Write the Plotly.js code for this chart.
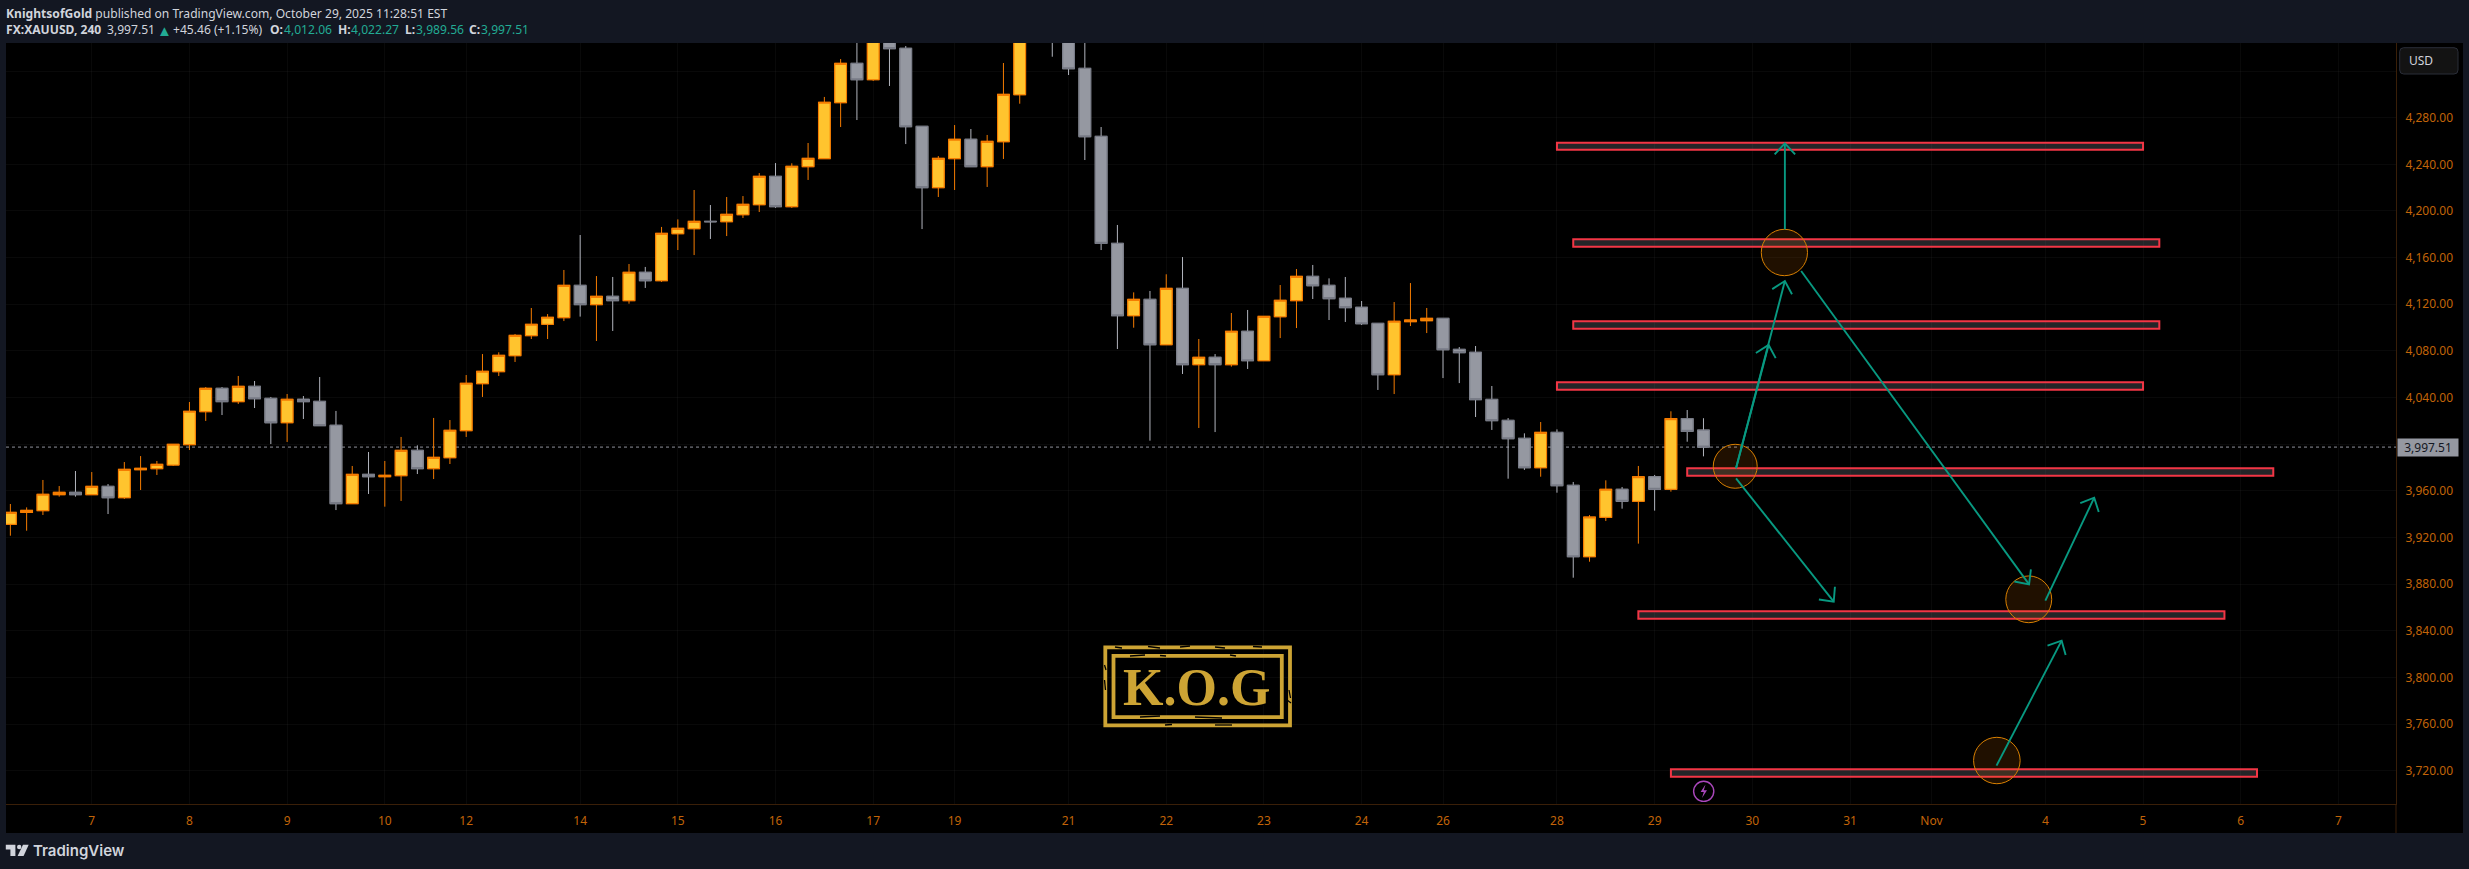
<!DOCTYPE html>
<html>
<head>
<meta charset="utf-8">
<script src="https://cdn.plot.ly/plotly-3.0.1.min.js"></script>
<style>html,body{margin:0;padding:0;background:#131722;overflow:hidden}#c{width:2469px;height:869px}</style>
</head>
<body>
<div id="c"></div>
<script>
// ---- candle data (bar index 0..104, 4h bars) ----
const opens = [3931.2,3941.5,3943,3956.7,3958.7,3956.7,3963.8,3954.1,3978.1,3979,3982.1,3999.6,4027.9,4047.9,4036.5,4049.6,4039.3,4018.4,4038.5,4036.7,4016.2,3949,3974.1,3972.1,3973,3994.7,3979,3988.4,4011.6,4051.9,4062.2,4075.9,4093.1,4102.8,4108.5,4136.2,4119.7,4126.8,4123.1,4147.4,4140.2,4180.5,4184.8,4191.1,4190.8,4196.8,4205.4,4229.7,4203.7,4238,4244.9,4292.9,4326.6,4312.6,4349,4339.5,4272.6,4220,4244.9,4261.5,4238,4259.4,4299.7,4352,4380,4360,4322.3,4264,4172.2,4110.2,4124.2,4085.3,4133.6,4068.2,4074.5,4068.2,4096.8,4071.6,4109.3,4123.1,4143.9,4136.2,4125.1,4117.4,4103.6,4059.6,4105.1,4105.9,4107.9,4081.3,4078.8,4038.4,4020.4,4005,3979.8,4010.1,3964.7,3903.5,3937.2,3961.3,3951,3972.1,3961.3,4021.9,4012.06];
const highs = [3948.7,3945.8,3969.3,3964.1,3977,3976.1,3965.8,3984.7,3989.8,3985.6,3999.9,4036.2,4049,4049,4058.5,4054.2,4040.5,4043,4041.3,4057.6,4028.5,3981.3,3993.3,3985.6,4006.2,3999,4022.5,4020.7,4059.3,4077.3,4078.8,4094.5,4116.8,4111.6,4149.4,4179.4,4144.2,4143.4,4154.5,4152,4186.3,4192.8,4218,4205.1,4212,4212.8,4232.5,4241.1,4240.9,4258.3,4297.8,4330.3,4352,4352,4351,4341.5,4272.6,4247.1,4273.7,4270.3,4265.2,4326.9,4358,4390,4385,4365,4352,4272,4188,4130.2,4131.4,4145.7,4160.5,4090.2,4077.3,4112.5,4115.1,4109.6,4136.5,4150.2,4153.7,4142.2,4143.4,4122.8,4103.6,4121.9,4138.2,4116.8,4107.9,4083.3,4084.2,4049.9,4022.4,4009.3,4019,4012.7,3967.6,3939.2,3969,3963.3,3981.3,3973.6,4028.2,4029.3,4022.27];
const lows = [3921.5,3925.8,3939.3,3955,3955,3956.7,3940.1,3953,3960.7,3973.6,3981.3,3995,4019.9,4025,4034.5,4031,4000.1,4001.9,4021.6,4015.9,3943.5,3949,3957.3,3946.4,3951.3,3974.4,3970.1,3983,4006.2,4040.5,4058.5,4070.5,4090.2,4090.2,4105.6,4109.4,4088.5,4097.1,4120.5,4134,4139.1,4166.5,4162.2,4176,4178.5,4194,4199.1,4202.6,4202.6,4226.6,4244.9,4272,4278,4311.5,4307.2,4257.4,4184.5,4212,4218,4238,4220.6,4244.6,4292,4350,4332.3,4316.6,4243.7,4166.5,4081.6,4099.9,4003,4085.3,4060.2,4013.9,4010.4,4066.5,4064.5,4071.6,4091,4099.6,4124.5,4106.5,4104.8,4102.2,4046.5,4043,4101.3,4095.3,4056.7,4052.4,4023.3,4012.2,3970.4,3977.9,3972.1,3958.4,3885.5,3899.2,3934.1,3944.7,3914.7,3943,3959.3,4002.1,3989.56];
const closes = [3941.5,3943.2,3957,3958.7,3956.7,3963.8,3954.1,3978.4,3979.3,3982.7,3999.9,4028.2,4047.9,4036.5,4049.6,4039,4018.4,4038.5,4036.5,4015.9,3949,3974.1,3972.1,3973.3,3994.7,3979,3988.7,4011.9,4052.2,4062.5,4076.2,4093.3,4102.8,4108.8,4136.2,4119.7,4126.8,4123.1,4147.4,4140.2,4180.8,4185.1,4191.1,4190.8,4197.1,4205.7,4229.7,4203.7,4238.3,4245.1,4293.2,4326.6,4312.6,4349,4339.2,4272.3,4220,4245.1,4261.5,4238,4259.7,4300,4352,4380,4360,4322,4263.7,4172.2,4110.2,4124.2,4085.3,4133.6,4068.2,4074.5,4068.2,4096.8,4071.6,4109.6,4123.4,4143.9,4135.9,4124.8,4117.1,4103.3,4059.6,4105.4,4106.5,4107.9,4081,4078.5,4038.2,4020.2,4004.7,3979.8,4010.1,3964.4,3903.5,3937.5,3961.3,3951,3972.1,3961.3,4021.9,4011,3997.51];
const barIndex = opens.map((_, i) => i);

// ---- axis labels ----
const dayTickIndex = [5,11,17,23,28,35,41,47,53,58,65,71,77,83,88,95,101,107,113,118,125,131,137,143];
const dayTickLabels = ['7','8','9','10','12','14','15','16','17','19','21','22','23','24','26','28','29','30','31','Nov','4','5','6','7'];
const priceTicks = [3720,3760,3800,3840,3880,3920,3960,4000,4040,4080,4120,4160,4200,4240,4280,4320];
const priceTickLabels = ['3,720.00','3,760.00','3,800.00','3,840.00','3,880.00','3,920.00','3,960.00','','4,040.00','4,080.00','4,120.00','4,160.00','4,200.00','4,240.00','4,280.00',''];
const lastPrice = 3997.51;

// ---- drawings ----
const zoneLeft  = [95,96,96,95,103,100,102];
const zoneRight = [131,132,132,131,139,136,138];
const zoneTop   = [4258.6,4175.8,4105.4,4053.2,3979.4,3856.7,3721.2];
const zoneBot   = [4252.6,4169.3,4099,4046.7,3972.9,3850.3,3714.8];

const ellLeft  = [104.6,107.55,122.57,120.59];
const ellRight = [107.3,110.39,125.39,123.45];
const ellTop   = [3999.9,4184.3,3887,3748.6];
const ellBot   = [3962.2,4144.5,3846.9,3708.8];

const arrowTailX = [109,106,106,110,106,125,122];
const arrowTailY = [4184.3,3979.3,3979.3,4148.5,3970.7,3865.8,3724.3];
const arrowTipX  = [109,109,108,124,112,128,126];
const arrowTipY  = [4258,4139.9,4085.1,3879.8,3864.9,3954.1,3831.5];

// ---- layout geometry of the chart frame ----
const W = 2469, H = 869, PL = 6, PR = 2396, PT = 43, PB = 804;
const xRange = [(PL-10.36)/16.28, (PR-10.36)/16.28];
const yRange = [4280-(PB-117.7)/1.166, 4280-(PT-117.7)/1.166];
const px = X => (X-PL)/(PR-PL);
const py = Y => (PB-Y)/(PB-PT);
const pxPerX = (PR-PL)/(xRange[1]-xRange[0]);
const pxPerY = (PB-PT)/(yRange[1]-yRange[0]);

// ---- candle traces ----
const UP_FILL='#ffc42e', UP_EDGE='#f57c00', DN_FILL='#9598a1', DN_EDGE='#787b86', DN_WICK='#b2b5be';
const wickTrace = {type:'candlestick', x:barIndex, open:opens, high:highs, low:lows, close:closes,
  increasing:{line:{color:UP_EDGE,width:1},fillcolor:UP_FILL},
  decreasing:{line:{color:DN_WICK,width:1},fillcolor:DN_FILL},
  hoverinfo:'skip', showlegend:false};
const bodyTrace = {type:'candlestick', x:barIndex, open:opens, close:closes,
  high:opens.map((o,i)=>Math.max(o,closes[i])), low:opens.map((o,i)=>Math.min(o,closes[i])),
  increasing:{line:{color:UP_EDGE,width:1.1},fillcolor:UP_FILL},
  decreasing:{line:{color:DN_EDGE,width:1.1},fillcolor:DN_FILL},
  hoverinfo:'skip', showlegend:false};

// ---- arrows ----
const ax=[], ay=[];
arrowTipX.forEach((tx,i)=>{
  const ty=arrowTipY[i], dx=(arrowTailX[i]-tx)*pxPerX, dy=-(arrowTailY[i]-ty)*pxPerY;
  const L=Math.hypot(dx,dy), ux=dx/L, uy=dy/L, len=15, a=43*Math.PI/180;
  ax.push(arrowTailX[i],tx,null); ay.push(arrowTailY[i],ty,null);
  [a,-a].forEach((t,k)=>{
    const bx=(ux*Math.cos(t)-uy*Math.sin(t))*len, by=(ux*Math.sin(t)+uy*Math.cos(t))*len;
    ax.push(tx+bx/pxPerX); ay.push(ty-by/pxPerY);
    if(k===0){ax.push(tx);ay.push(ty);}
  });
  ax.push(null); ay.push(null);
});
const arrowTrace = {type:'scatter',mode:'lines',x:ax,y:ay,line:{color:'#089981',width:1.9},hoverinfo:'skip',showlegend:false};

// ---- shapes ----
const shapes = [];
const panel = (X0,Y0,X1,Y1,fill)=>({type:'rect',xref:'paper',yref:'paper',x0:px(X0),x1:px(X1),y0:py(Y0),y1:py(Y1),fillcolor:fill,line:{width:0},layer:'below'});
shapes.push(panel(PL,PT,2463,833,'#000000'));
shapes.push({type:'line',xref:'paper',yref:'paper',x0:1,x1:1,y0:py(804),y1:py(833),line:{color:'#3a1f08',width:1},layer:'below'});
shapes.push({type:'line',xref:'x',yref:'y',x0:xRange[0],x1:xRange[1],y0:lastPrice,y1:lastPrice,line:{color:'#8f929b',width:1,dash:'dot'},layer:'between'});
zoneLeft.forEach((l,i)=>shapes.push({type:'rect',xref:'x',yref:'y',x0:l,x1:zoneRight[i],y0:zoneBot[i],y1:zoneTop[i],fillcolor:'rgba(120,123,134,0.3)',line:{color:'#f23645',width:2},layer:'between'}));
ellLeft.forEach((l,i)=>shapes.push({type:'circle',xref:'x',yref:'y',x0:l,x1:ellRight[i],y0:ellBot[i],y1:ellTop[i],fillcolor:'rgba(245,124,0,0.13)',line:{color:'#d98000',width:1},layer:'between'}));
// USD button
const rr=(x0,y0,x1,y1,r)=>`M${px(x0+r)},${py(y0)} L${px(x1-r)},${py(y0)} Q${px(x1)},${py(y0)} ${px(x1)},${py(y0+r)} L${px(x1)},${py(y1-r)} Q${px(x1)},${py(y1)} ${px(x1-r)},${py(y1)} L${px(x0+r)},${py(y1)} Q${px(x0)},${py(y1)} ${px(x0)},${py(y1-r)} L${px(x0)},${py(y0+r)} Q${px(x0)},${py(y0)} ${px(x0+r)},${py(y0)} Z`;
shapes.push({type:'path',xref:'paper',yref:'paper',path:rr(2399.7,47.7,2458,74,4),fillcolor:'#131313',line:{color:'#2a2e39',width:1},layer:'above'});
// KOG logo frames
const GOLD='#cda434';
[[1105.3,647.3,1290,725.3],[1113.5,655.8,1281.8,717.2]].forEach(f=>shapes.push({type:'rect',xref:'paper',yref:'paper',x0:px(f[0]),x1:px(f[2]),y0:py(f[1]),y1:py(f[3]),line:{color:GOLD,width:3.8},fillcolor:'rgba(0,0,0,0)',layer:'above'}));
// worn patches on the KOG frames
const specks=[[1115,647,1122,648],[1148,646.5,1160,648],[1180,647,1190,646],[1215,647,1225,648],[1253,646.5,1262,647],[1130,656,1145,655],[1160,655.5,1166,656],[1230,655,1236,656],[1140,717,1160,716],[1195,717,1222,718],[1165,725,1172,724.5],[1215,725,1232,725],[1104.5,665,1106,670],[1104.5,680,1105.5,690],[1289,690,1290.5,698],[1287,700,1291,703]];
specks.forEach(s=>shapes.push({type:'line',xref:'paper',yref:'paper',x0:px(s[0]),y0:py(s[1]),x1:px(s[2]),y1:py(s[3]),line:{color:'#000000',width:1.3},layer:'above'}));
// event icon
shapes.push({type:'circle',xref:'paper',yref:'paper',x0:px(1693.6),x1:px(1713.8),y0:py(781.2),y1:py(801.4),line:{color:'#ab47bc',width:1.4},fillcolor:'rgba(0,0,0,0)',layer:'above'});
const bolt=[[1705.5,784.5],[1700.6,792],[1703.8,792],[1702,798],[1707,790.2],[1703.8,790.2]];
shapes.push({type:'path',xref:'paper',yref:'paper',path:'M'+bolt.map(p=>px(p[0])+','+py(p[1])).join(' L')+' Z',fillcolor:'#ab47bc',line:{width:0},layer:'above'});
// TradingView mark
const LOGO='#d1d4dc';
const poly=pts=>({type:'path',xref:'paper',yref:'paper',path:'M'+pts.map(p=>px(p[0])+','+py(p[1])).join(' L')+' Z',fillcolor:LOGO,line:{width:0},layer:'above'});
shapes.push(poly([[5.8,844.7],[15.4,844.7],[15.4,856],[10.4,856],[10.4,849.4],[5.8,849.4]]));
shapes.push(poly([[23,844.7],[28.7,844.7],[23.6,856],[17.6,856]]));
shapes.push({type:'circle',xref:'paper',yref:'paper',x0:px(17),x1:px(21.4),y0:py(844.8),y1:py(849.2),fillcolor:LOGO,line:{width:0},layer:'above'});

// ---- text ----
const HF="'Noto Sans', sans-serif";
const TXT='#d1d4dc', TEAL='#22ab94';
const label=(t,X,Y,o={})=>({xref:'paper',yref:'paper',x:px(X),y:py(Y),text:t,showarrow:false,xanchor:o.a||'left',yanchor:'middle',
  font:{family:o.f||HF,size:o.s||12.1,color:o.c||TXT,weight:o.w||'normal'},borderpad:0,borderwidth:0,bgcolor:o.bg,align:'left'});
const annotations=[
  label('<b>KnightsofGold</b> published on TradingView.com, October 29, 2025 11:28:51 EST',6,13),
  label('<b>FX:XAUUSD, 240</b>',6,30),
  label('3,997.51',107,30),
  label('▲',157,30,{c:TEAL,s:15}),
  label('+45.46 (+1.15%)',173,30),
  label('<b>O:</b>',270,30), label('4,012.06',284,30,{c:TEAL}),
  label('<b>H:</b>',338,30), label('4,022.27',351,30,{c:TEAL}),
  label('<b>L:</b>',405,30), label('3,989.56',416,30,{c:TEAL}),
  label('<b>C:</b>',469,30), label('3,997.51',481,30,{c:TEAL}),
  label('USD',2409,61,{s:12,c:'#d1d4dc'}),
  label('TradingView',33,851,{f:"Inter, sans-serif",s:15,c:LOGO,w:600}),
  label('<b>K.O.G</b>',1196,687,{f:"'Liberation Serif', serif",s:52,c:GOLD,a:'center'}),
  {xref:'paper',yref:'y',x:px(2397),y:lastPrice,text:'3,997.51',showarrow:false,xanchor:'left',yanchor:'middle',width:60,height:17,bgcolor:'#9598a1',
    font:{family:HF,size:12,color:'#131722'},borderpad:0,align:'center'}
];

const TICK='#c26408', AXIS='#3a1f08', GRID='rgba(255,255,255,0.035)';
Plotly.newPlot('c',[wickTrace,bodyTrace,arrowTrace],{
  width:W,height:H,autosize:false,
  margin:{l:PL,r:W-PR,t:PT,b:H-PB,pad:0},
  paper_bgcolor:'#131722',plot_bgcolor:'#000000',
  showlegend:false,boxgap:0.28,boxgroupgap:0,
  xaxis:{type:'linear',range:xRange,rangeslider:{visible:false},tickmode:'array',tickvals:dayTickIndex,ticktext:dayTickLabels,
    showgrid:true,gridcolor:GRID,gridwidth:1,zeroline:false,showline:true,linecolor:AXIS,linewidth:1,ticks:'outside',ticklen:6,tickcolor:'rgba(0,0,0,0)',
    tickangle:0,tickfont:{family:HF,size:12,color:TICK},fixedrange:true},
  yaxis:{type:'linear',side:'right',range:yRange,tickmode:'array',tickvals:priceTicks,ticktext:priceTickLabels,
    showgrid:true,gridcolor:GRID,gridwidth:1,zeroline:false,showline:true,linecolor:AXIS,linewidth:1,ticks:'outside',ticklen:6,tickcolor:'rgba(0,0,0,0)',
    tickfont:{family:HF,size:12,color:TICK},fixedrange:true},
  shapes:shapes,annotations:annotations
},{displayModeBar:false,staticPlot:true});
</script>
</body>
</html>
